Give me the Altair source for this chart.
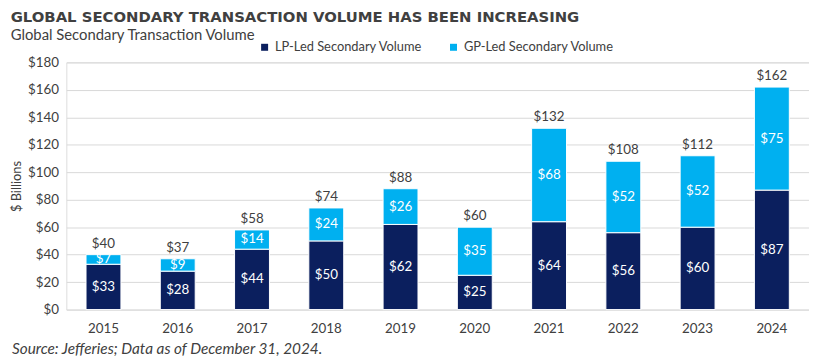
import altair as alt
import pandas as pd

years = ["2015", "2016", "2017", "2018", "2019", "2020", "2021", "2022", "2023", "2024"]
lp_led = [33, 28, 44, 50, 62, 25, 64, 56, 60, 87]
gp_led = [7, 9, 14, 24, 26, 35, 68, 52, 52, 75]
totals = [40, 37, 58, 74, 88, 60, 132, 108, 112, 162]
y_ticks = [0, 20, 40, 60, 80, 100, 120, 140, 160, 180]
series_names = ["LP-Led Secondary Volume", "GP-Led Secondary Volume"]
series_colors = ["#0b1f5e", "#00b0f0"]
title_text = "GLOBAL SECONDARY TRANSACTION VOLUME HAS BEEN INCREASING"
subtitle_text = "Global Secondary Transaction Volume"
source_text = "Source: Jefferies; Data as of December 31, 2024."

FONT = "Lato"
TXT = "#404040"

rows = []
for y, a, b in zip(years, lp_led, gp_led):
    rows.append({"year": y, "series": series_names[0], "value": a, "order": 0, "mid": a / 2, "label": f"${a}"})
    rows.append({"year": y, "series": series_names[1], "value": b, "order": 1, "mid": a + b / 2, "label": f"${b}"})
df = pd.DataFrame(rows)
tot = pd.DataFrame({"year": years, "total": totals, "label": [f"${t}" for t in totals]})
src = pd.DataFrame({"t": [source_text]})

W, H = 751, 250
yscale = alt.Scale(domain=[0, 180], nice=False)
yaxis = alt.Axis(values=y_ticks, labelExpr="'$' + datum.value",
                 ticks=False, domain=False, grid=True, gridColor="#d9d9d9",
                 labelOverlap=False,
                 labelFont=FONT, labelFontSize=13.5, labelColor=TXT, labelPadding=8,
                 titleFont=FONT, titleFontSize=13, titleFontWeight="normal",
                 titleColor=TXT, titlePadding=4)

xscale = alt.Scale(paddingInner=0.53, paddingOuter=0.265)
xaxis = alt.Axis(labelAngle=0, ticks=False, domain=False, labelPadding=12,
                 labelFont=FONT, labelFontSize=13.5, labelColor=TXT)

bars = alt.Chart(df).mark_bar(stroke="white", strokeWidth=1).encode(
    x=alt.X("year:N", title=None, sort=years, scale=xscale, axis=xaxis),
    y=alt.Y("value:Q", stack="zero", title="$ Billions", scale=yscale, axis=yaxis),
    color=alt.Color("series:N", sort=series_names,
                    scale=alt.Scale(domain=series_names, range=series_colors),
                    legend=alt.Legend(title=None, orient="none", direction="horizontal",
                                      legendX=194, legendY=-22, symbolType="square",
                                      symbolSize=50, symbolStrokeWidth=0,
                                      labelFont=FONT, labelFontSize=13, labelColor=TXT,
                                      columnPadding=25)),
    order=alt.Order("order:Q"),
)

seg_labels = alt.Chart(df).mark_text(color="white", font=FONT, fontSize=13.5, baseline="middle").encode(
    x=alt.X("year:N", title=None, sort=years, scale=xscale, axis=xaxis),
    y=alt.Y("mid:Q", title="$ Billions", scale=yscale, axis=yaxis),
    text="label:N",
)

tot_labels = alt.Chart(tot).mark_text(color=TXT, font=FONT, fontSize=13.5, baseline="bottom", dy=-4).encode(
    x=alt.X("year:N", title=None, sort=years, scale=xscale, axis=xaxis),
    y=alt.Y("total:Q", title="$ Billions", scale=yscale, axis=yaxis),
    text="label:N",
)

source = alt.Chart(src).mark_text(color=TXT, font=FONT, fontSize=15.5, fontStyle="italic",
                                  align="left", baseline="middle").encode(
    x=alt.value(-55), y=alt.value(H + 40), text="t:N"
)

chart = alt.layer(bars, seg_labels, tot_labels, source).properties(
    width=W, height=H,
    title=alt.TitleParams(text=title_text, subtitle=subtitle_text, anchor="start", frame="bounds",
                          font="DejaVu Sans", fontSize=15, fontWeight="bold", color="#404040",
                          subtitleFont=FONT, subtitleFontSize=15, subtitleColor=TXT,
                          subtitlePadding=3, offset=-2, dx=0),
).configure_view(stroke=None).configure(padding={"left": 2, "top": 0, "right": 0, "bottom": 0})

chart.save("out.html", embed_options={"renderer": "svg", "actions": False})
